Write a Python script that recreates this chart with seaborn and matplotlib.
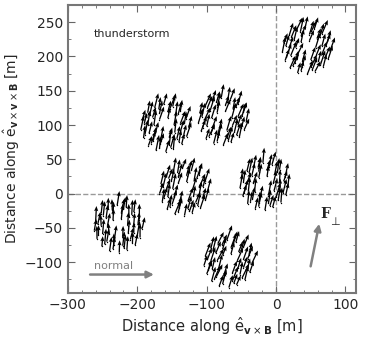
import numpy as np
import pandas as pd
import matplotlib
matplotlib.use("Agg")
import matplotlib.pyplot as plt
import seaborn as sns
from matplotlib.ticker import MultipleLocator

# station (ring) centres, in metres
station_x = [43, -161, -78, -134, -18, -228, -70]
station_y = [208, 95, 105, 2, 10, -52, -103]
station_tilt = [8, 2, 6, 4, 0, -6, 8]  # mean extra tilt of the arrows per station, deg

# antenna offsets inside a station (same layout for all stations)
ant_dx = [35, 31, 23, 12, -1, -14, -24, -32, -34, -30, -23, -12, 2, 13, 25, 32,
          29, 20, 8, -8, -21, -29, -28, -19, -7, 9, 21, 28,
          23, 16, 5, -7, -17, -24, -22, -16, -6, 7, 18, 23,
          14, 5, -7, -15, -13, -5, 7, 15]
ant_dy = [1, 14, 25, 32, 35, 30, 23, 12, -2, -14, -25, -32, -34, -30, -23, -12,
          8, 21, 29, 28, 20, 7, -9, -22, -29, -28, -20, -9,
          7, 18, 24, 22, 16, 5, -7, -18, -23, -24, -15, -5,
          5, 15, 13, 5, -7, -15, -13, -6]

# polarisation arrow direction (deg from vertical, + = towards +x) and length
ant_angle = [12, 8, 15, 10, 5, 18, 9, 14, 3, 11, 16, 7, 13, 20, 6, 10, 12, 9,
             17, 4, 14, 8, 11, 19, 6, 13, 10, 15, 7, 12, 9, 16, 5, 11, 14, 8,
             10, 17, 6, 13, 9, 15, 4, 12, 18, 7, 11, 14]
ant_len = [20, 17, 22, 18, 16, 21, 19, 15, 23, 18, 20, 16, 22, 17, 19, 21, 18, 20,
           16, 22, 19, 17, 21, 18, 15, 20, 22, 17, 19, 16, 21, 18, 20, 17, 23, 19,
           18, 21, 16, 20, 22, 17, 19, 15, 21, 18, 20, 17]

rows = []
for k, (cx, cy, tilt) in enumerate(zip(station_x, station_y, station_tilt)):
    ang = np.roll(ant_angle, 5 * k)
    ln = np.roll(ant_len, 3 * k)
    for dx, dy, a, l in zip(ant_dx, ant_dy, ang, ln):
        t = np.deg2rad(a + tilt)
        rows.append({"x": cx + dx, "y": cy + dy,
                     "u": l * np.sin(t), "v": l * np.cos(t)})
df = pd.DataFrame(rows)

sns.set_style("ticks")
plt.rcParams['font.family'] = ['DejaVu Sans']

fig = plt.figure(figsize=(3.65, 3.38), dpi=100)
ax = fig.add_axes([0.186, 0.133, 0.789, 0.852])

ax.axhline(0, color="#999999", ls="--", lw=1, zorder=0)
ax.axvline(0, color="#999999", ls="--", lw=1, zorder=0)

sns.scatterplot(data=df, x="x", y="y", s=1, color="black", linewidth=0, ax=ax, legend=False)
ax.quiver(df["x"], df["y"], df["u"], df["v"], angles="xy", scale_units="xy", scale=1,
          width=0.0045, headwidth=3.2, headlength=4, headaxislength=3.5, color="black", zorder=3)

ax.text(-263, 233, "thunderstorm", fontsize=8, va="center", ha="left")
ax.text(-263, -105, "normal", fontsize=8, color="gray", va="center", ha="left")
ax.annotate("", xy=(-172, -118), xytext=(-272, -118),
            arrowprops=dict(arrowstyle="-|>", color="gray", lw=1.8, mutation_scale=10))
ax.annotate("", xy=(63, -40), xytext=(49, -110),
            arrowprops=dict(arrowstyle="-|>", color="gray", lw=1.8, mutation_scale=10))
ax.text(64, -30, "F", fontsize=10, fontweight="bold", family="DejaVu Serif", va="center")
ax.text(78, -42, "⊥", fontsize=8, family="DejaVu Sans", va="center")

ax.set_xlim(-300, 115)
ax.set_ylim(-145, 275)
ax.xaxis.set_major_locator(MultipleLocator(100))
ax.xaxis.set_minor_locator(MultipleLocator(20))
ax.yaxis.set_major_locator(MultipleLocator(50))
ax.yaxis.set_minor_locator(MultipleLocator(25))
ax.tick_params(which="both", direction="in", top=True, right=True, color="#666666",
               labelsize=10)
ax.tick_params(which="major", length=5)
ax.tick_params(which="minor", length=2.5)
for s in ax.spines.values():
    s.set_color("#777777")
    s.set_linewidth(1.5)

ax.set_xlabel(r"Distance along $\hat{\mathrm{e}}_{\mathbf{v}\times\mathbf{B}}$ [m]", fontsize=10.5, labelpad=2)
ax.set_ylabel(r"Distance along $\hat{\mathrm{e}}_{\mathbf{v}\times\mathbf{v}\times\mathbf{B}}$ [m]", fontsize=10, labelpad=2)

fig.savefig("out.png", dpi=100)
